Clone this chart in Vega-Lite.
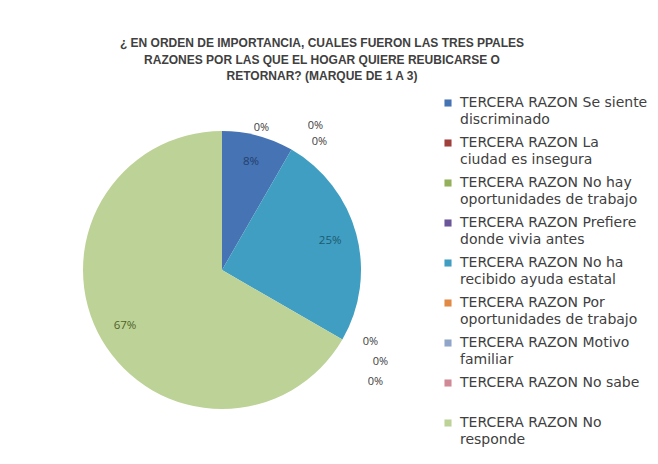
{
  "$schema": "https://vega.github.io/schema/vega-lite/v6.json",
  "width": 444,
  "height": 380,
  "autosize": "none",
  "padding": {"left": 0, "top": 80, "right": 214, "bottom": 4},
  "background": "white",
  "config": {"view": {"stroke": null}, "font": "Open Sans"},
  "title": {
    "text": ["¿ EN ORDEN DE IMPORTANCIA, CUALES FUERON LAS TRES PPALES", "RAZONES POR LAS QUE EL HOGAR QUIERE REUBICARSE O", "RETORNAR? (MARQUE DE 1 A 3)"],
    "anchor": "middle",
    "frame": "group",
    "dx": 100,
    "offset": -3,
    "font": "Liberation Sans",
    "fontSize": 12,
    "fontWeight": "bold",
    "lineHeight": 16.5,
    "color": "#404040"
  },
  "data": {
    "values": [
      {"razon": "TERCERA RAZON Se siente|discriminado", "valor": 1, "pct": "8%", "orden": 1},
      {"razon": "TERCERA RAZON La|ciudad es insegura", "valor": 0, "pct": "0%", "orden": 2},
      {"razon": "TERCERA RAZON No hay|oportunidades de trabajo", "valor": 0, "pct": "0%", "orden": 3},
      {"razon": "TERCERA RAZON Prefiere|donde vivia antes", "valor": 0, "pct": "0%", "orden": 4},
      {"razon": "TERCERA RAZON No ha|recibido ayuda estatal", "valor": 3, "pct": "25%", "orden": 5},
      {"razon": "TERCERA RAZON Por|oportunidades de trabajo", "valor": 0, "pct": "0%", "orden": 6},
      {"razon": "TERCERA RAZON Motivo|familiar", "valor": 0, "pct": "0%", "orden": 7},
      {"razon": "TERCERA RAZON No sabe", "valor": 0, "pct": "0%", "orden": 8},
      {"razon": "TERCERA RAZON No|responde", "valor": 8, "pct": "67%", "orden": 9}
    ]
  },
  "encoding": {
    "theta": {"field": "valor", "type": "quantitative", "stack": true},
    "order": {"field": "orden", "type": "quantitative"}
  },
  "layer": [
    {
      "mark": {"type": "arc", "outerRadius": 139},
      "encoding": {
        "color": {
          "field": "razon",
          "type": "nominal",
          "sort": {"field": "orden"},
          "scale": {
            "domain": ["TERCERA RAZON Se siente|discriminado", "TERCERA RAZON La|ciudad es insegura", "TERCERA RAZON No hay|oportunidades de trabajo", "TERCERA RAZON Prefiere|donde vivia antes", "TERCERA RAZON No ha|recibido ayuda estatal", "TERCERA RAZON Por|oportunidades de trabajo", "TERCERA RAZON Motivo|familiar", "TERCERA RAZON No sabe", "TERCERA RAZON No|responde"],
            "range": ["#4573B3", "#A0403D", "#95B05A", "#6A5698", "#3F9EC1", "#E08A45", "#8FA6C8", "#D08A96", "#BDD296"]
          },
          "legend": {
            "orient": "none",
            "legendX": 441,
            "legendY": 16,
            "title": null,
            "symbolType": "square",
            "symbolSize": 50,
            "symbolStrokeWidth": 0,
            "labelFont": "DejaVu Sans",
            "labelFontSize": 14,
            "labelColor": "#404040",
            "labelLimit": 260,
            "labelOffset": 5,
            "rowPadding": 9,
            "gridAlign": "all",
            "padding": 0,
            "labelExpr": "split(datum.label, '|')",
            "encode": {"labels": {"update": {"lineHeight": {"value": 17}}}}
          }
        }
      }
    },
    {
      "mark": {"type": "text", "radius": 112, "fontSize": 11.5, "font": "Open Sans"},
      "encoding": {
        "detail": {"field": "razon", "type": "nominal"},
        "text": {"condition": {"test": "datum.valor > 0", "field": "pct"}, "value": ""},
        "color": {"condition": [{"test": "datum.orden == 1", "value": "#24406E"}, {"test": "datum.orden == 5", "value": "#1E5A70"}], "value": "#4F6228"}
      }
    },
    {
      "mark": {"type": "text", "radius": 139, "dx": -30, "dy": -22, "fontSize": 11, "color": "#404040"},
      "encoding": {"detail": {"field": "razon", "type": "nominal"}, "text": {"condition": {"test": "datum.orden == 2", "field": "pct"}, "value": ""}}
    },
    {
      "mark": {"type": "text", "radius": 139, "dx": 24, "dy": -24, "fontSize": 11, "color": "#404040"},
      "encoding": {"detail": {"field": "razon", "type": "nominal"}, "text": {"condition": {"test": "datum.orden == 3", "field": "pct"}, "value": ""}}
    },
    {
      "mark": {"type": "text", "radius": 139, "dx": 28, "dy": -8, "fontSize": 11, "color": "#404040"},
      "encoding": {"detail": {"field": "razon", "type": "nominal"}, "text": {"condition": {"test": "datum.orden == 4", "field": "pct"}, "value": ""}}
    },
    {
      "mark": {"type": "text", "radius": 139, "dx": 28, "dy": 2, "fontSize": 11, "color": "#404040"},
      "encoding": {"detail": {"field": "razon", "type": "nominal"}, "text": {"condition": {"test": "datum.orden == 6", "field": "pct"}, "value": ""}}
    },
    {
      "mark": {"type": "text", "radius": 139, "dx": 38, "dy": 22, "fontSize": 11, "color": "#404040"},
      "encoding": {"detail": {"field": "razon", "type": "nominal"}, "text": {"condition": {"test": "datum.orden == 7", "field": "pct"}, "value": ""}}
    },
    {
      "mark": {"type": "text", "radius": 139, "dx": 33, "dy": 42, "fontSize": 11, "color": "#404040"},
      "encoding": {"detail": {"field": "razon", "type": "nominal"}, "text": {"condition": {"test": "datum.orden == 8", "field": "pct"}, "value": ""}}
    }
  ]
}
